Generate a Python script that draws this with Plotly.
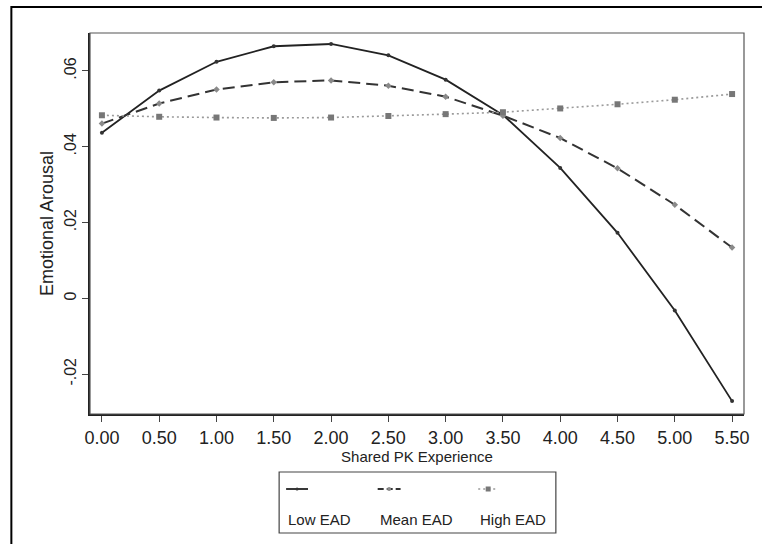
import plotly.graph_objects as go

# ---- data ----
shared_pk = [0.0, 0.5, 1.0, 1.5, 2.0, 2.5, 3.0, 3.5, 4.0, 4.5, 5.0, 5.5]
low_ead = [0.0437, 0.0548, 0.0624, 0.0665, 0.0671, 0.0641, 0.0577, 0.0484, 0.0344, 0.0173, -0.0032, -0.0271]
mean_ead = [0.0461, 0.0514, 0.0551, 0.0570, 0.0575, 0.0561, 0.0532, 0.0482, 0.0423, 0.0343, 0.0247, 0.0134]
high_ead = [0.0483, 0.0479, 0.0477, 0.0476, 0.0477, 0.0481, 0.0486, 0.0491, 0.0501, 0.0512, 0.0524, 0.0539]
x_tick_vals = [0.0, 0.5, 1.0, 1.5, 2.0, 2.5, 3.0, 3.5, 4.0, 4.5, 5.0, 5.5]
x_tick_text = ["0.00", "0.50", "1.00", "1.50", "2.00", "2.50", "3.00", "3.50", "4.00", "4.50", "5.00", "5.50"]
y_tick_vals = [-0.02, 0.0, 0.02, 0.04, 0.06]
y_tick_text = ["-.02", "0", ".02", ".04", ".06"]
legend_labels = ["Low EAD", "Mean EAD", "High EAD"]

W, H = 762, 544
L, R, T, B = 90, 15, 33, 130
FONT = "Liberation Sans"
TXT = "#222222"

fig = go.Figure()
fig.add_trace(go.Scatter(x=shared_pk, y=low_ead, mode="lines+markers", name=legend_labels[0],
                         line=dict(color="#222222", width=1.8),
                         marker=dict(color="#333333", size=4, symbol="circle")))
fig.add_trace(go.Scatter(x=shared_pk, y=mean_ead, mode="lines+markers", name=legend_labels[1],
                         line=dict(color="#333333", width=2, dash="12px,6px"),
                         marker=dict(color="#8a8a8a", size=5, symbol="diamond")))
fig.add_trace(go.Scatter(x=shared_pk, y=high_ead, mode="lines+markers", name=legend_labels[2],
                         line=dict(color="#9a9a9a", width=1.6, dash="2px,3px"),
                         marker=dict(color="#777777", size=6, symbol="square")))

pw, ph = W - L - R, H - T - B
def px(x):
    return (x - L) / pw
def py(y):
    return (H - B - y) / ph

shapes = []
# outer frame (cropped at right/bottom)
shapes.append(dict(type="rect", xref="paper", yref="paper", x0=px(11), x1=px(775), y0=py(7), y1=py(560),
                   line=dict(color="#000000", width=2), layer="below"))
# plot region border
shapes.append(dict(type="rect", xref="paper", yref="paper", x0=0, x1=1, y0=0, y1=1,
                   line=dict(color="#555555", width=1.2), layer="above"))
# legend box
shapes.append(dict(type="rect", xref="paper", yref="paper", x0=px(280), x1=px(558), y0=py(472), y1=py(533),
                   line=dict(color="#444444", width=1.2)))

key_y = 489
lab_y = 519
key_x = [(287, 309), (379, 402), (480, 500)]
key_line = [dict(color="#222222", width=1.8), dict(color="#333333", width=2, dash="6px,3px"),
            dict(color="#9a9a9a", width=1.6, dash="2px,3px")]
marker_col = ["#333333", "#8a8a8a", "#777777"]
marker_r = [1.5, 2, 2.5]
annotations = []
for i in range(3):
    x0, x1 = key_x[i]
    shapes.append(dict(type="line", xref="paper", yref="paper", x0=px(x0), x1=px(x1), y0=py(key_y), y1=py(key_y),
                       line=key_line[i]))
    cx = (x0 + x1) / 2
    r = marker_r[i]
    shapes.append(dict(type="rect" if i == 2 else "circle", xref="paper", yref="paper",
                       x0=px(cx - r), x1=px(cx + r), y0=py(key_y - r), y1=py(key_y + r),
                       fillcolor=marker_col[i], line=dict(width=0)))
    annotations.append(dict(text=legend_labels[i], xref="paper", yref="paper", x=px(x0), y=py(lab_y),
                            xanchor="left", yanchor="middle", showarrow=False,
                            font=dict(family=FONT, size=15, color=TXT)))

fig.update_layout(
    width=W, height=H,
    margin=dict(l=L, r=R, t=T, b=B),
    paper_bgcolor="white", plot_bgcolor="white",
    showlegend=False,
    font=dict(family=FONT, color=TXT),
    shapes=shapes, annotations=annotations,
    xaxis=dict(range=[-0.104, 5.604], tickvals=x_tick_vals, ticktext=x_tick_text,
               showgrid=False, zeroline=False, showline=True, linecolor="#222222", linewidth=1.8,
               ticks="outside", ticklen=6, tickcolor="#444444",
               tickfont=dict(family=FONT, size=18, color=TXT),
               title=dict(text="Shared PK Experience", font=dict(family=FONT, size=15, color=TXT), standoff=0)),
    yaxis=dict(range=[-0.0305, 0.0700], tickvals=y_tick_vals, ticktext=y_tick_text, tickangle=-90,
               showgrid=False, zeroline=False, showline=True, linecolor="#222222", linewidth=1.8,
               ticks="outside", ticklen=6, tickcolor="#444444",
               tickfont=dict(family=FONT, size=16, color=TXT),
               title=dict(text="Emotional Arousal", font=dict(family=FONT, size=18, color=TXT), standoff=3)),
)

fig.write_html("out.html", config={"displayModeBar": False},
               post_script="document.body.style.margin='0';")
